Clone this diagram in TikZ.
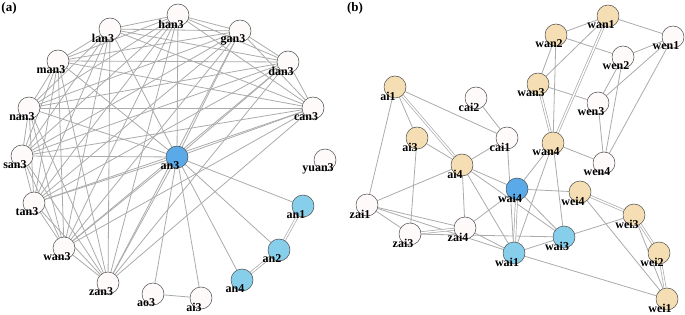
\documentclass[tikz,border=0pt]{standalone}
\usepackage{fontspec}
\setmainfont{Liberation Serif}
\usetikzlibrary{backgrounds}
\definecolor{wheat}{HTML}{F5DEB3}
\definecolor{sky}{HTML}{87CEEB}
\definecolor{deepsky}{HTML}{5AAAE9}
\definecolor{snow}{HTML}{FFFAFA}
\definecolor{edgegray}{HTML}{ABABAB}

\begin{document}
\begin{tikzpicture}[x=1pt,y=-1pt,
  v/.style={circle,draw=black!70,line width=0.5pt,fill=snow,minimum size=22pt,inner sep=0pt,
    label={[font=\bfseries\fontsize{12}{12}\selectfont,inner sep=0pt,xshift=-7pt,yshift=-9pt]center:#1}},
  yel/.style={fill=wheat},lb/.style={fill=sky},db/.style={fill=deepsky},
  ln/.style={draw=edgegray,line width=0.8pt},
  dbl/.style={draw=edgegray,line width=0.7pt,double=white,double distance=1.4pt},
  tag/.style={font=\bfseries\fontsize{13}{13}\selectfont,inner sep=0pt}]
\useasboundingbox (0,0) rectangle (685,315);
\node[tag] (tagA) at (9,8) {(a)};
\node[tag] (tagB) at (355,8) {(b)};
% (a)
\node[v=han3] (l-han3) at (178,15) {};
\node[v=lan3] (l-lan3) at (110,29) {};
\node[v=gan3] (l-gan3) at (240,31) {};
\node[v=man3] (l-man3) at (58,61) {};
\node[v=dan3] (l-dan3) at (288,62) {};
\node[v=nan3] (l-nan3) at (29,108) {};
\node[v=can3] (l-can3) at (313,108) {};
\node[v=san3] (l-san3) at (22,156) {};
\node[v=an3,db] (l-an3) at (177,157) {};
\node[v=yuan3] (l-yuan3) at (325,160) {};
\node[v=tan3] (l-tan3) at (34,203) {};
\node[v=an1,lb] (l-an1) at (303,206) {};
\node[v=wan3] (l-wan3) at (64,248) {};
\node[v=an2,lb] (l-an2) at (279,250) {};
\node[v=an4,lb] (l-an4) at (242,280) {};
\node[v=zan3] (l-zan3) at (108,283) {};
\node[v=ao3] (l-ao3) at (153,294) {};
\node[v=ai3] (l-ai3) at (201,298) {};
% (b)
\node[v=wan1,yel] (r-wan1) at (608,16) {};
\node[v=wan2,yel] (r-wan2) at (556,35) {};
\node[v=wen1] (r-wen1) at (673,37) {};
\node[v=wen2] (r-wen2) at (623,57) {};
\node[v=ai1,yel] (r-ai1) at (395,87) {};
\node[v=wan3,yel] (r-wan3) at (538,84) {};
\node[v=cai2] (r-cai2) at (476,98) {};
\node[v=wen3] (r-wen3) at (598,103) {};
\node[v=ai3,yel] (r-ai3) at (417,138) {};
\node[v=cai1] (r-cai1) at (507,138) {};
\node[v=wan4,yel] (r-wan4) at (553,143) {};
\node[v=wen4] (r-wen4) at (604,163) {};
\node[v=ai4,yel] (r-ai4) at (462,165) {};
\node[v=wai4,db] (r-wai4) at (517,189) {};
\node[v=wei4,yel] (r-wei4) at (580,192) {};
\node[v=zai1] (r-zai1) at (367,205) {};
\node[v=wei3,yel] (r-wei3) at (634,215) {};
\node[v=zai4] (r-zai4) at (465,228) {};
\node[v=zai3] (r-zai3) at (410,234) {};
\node[v=wai3,lb] (r-wai3) at (564,237) {};
\node[v=wei2,yel] (r-wei2) at (659,253) {};
\node[v=wai1,lb] (r-wai1) at (514,253) {};
\node[v=wei1,yel] (r-wei1) at (667,299) {};
\begin{scope}[on background layer]
% (a) edges
\foreach \u [count=\i] in {han3,gan3,dan3,can3,an3,zan3,wan3,tan3,san3,nan3,man3,lan3}
  \foreach \w [count=\j] in {han3,gan3,dan3,can3,an3,zan3,wan3,tan3,san3,nan3,man3,lan3}
    {\ifnum\j>\i \draw[ln] (l-\u)--(l-\w); \fi}
\foreach \u/\w in {an3/an1,an3/an2,an3/an4,an3/ao3,an3/ai3,ao3/ai3}
  \draw[ln] (l-\u)--(l-\w);
\draw[dbl] (l-an1)--(l-an2); \draw[dbl] (l-an2)--(l-an4);
% (b) edges
\foreach \u/\w in {ai1/ai3,ai1/zai1,ai1/cai1,ai3/ai4,ai3/zai3,cai2/cai1,cai1/ai4,cai1/wai1,
  ai4/zai1,ai4/zai4,ai4/wai4,ai4/wai1,ai4/wai3,zai1/zai3,zai1/zai4,zai1/wai1,zai3/wai3,
  zai4/wai4,zai4/wai1,wan1/wan2,wan1/wen1,wan1/wan3,wan2/wan3,wan2/wan4,wan2/wen2,
  wen1/wen2,wen1/wen3,wen1/wen4,wen2/wen3,wen2/wen4,wan3/wen3,wen3/wen4,wan4/wen4,
  wan4/wai4,wan4/wai1,wan4/wai3,wai4/wei4,wai4/wai3,wai1/wai3,wai1/wei1,wai3/wei3,
  wei4/wei1,wei3/wei1}
  \draw[ln] (r-\u)--(r-\w);
\foreach \u/\w in {ai1/ai4,wan1/wan4,wan3/wan4,wai4/wai1,wei4/wei3,wei3/wei2,wei2/wei1,zai3/zai4}
  \draw[dbl] (r-\u)--(r-\w);
\end{scope}
\end{tikzpicture}
\end{document}
